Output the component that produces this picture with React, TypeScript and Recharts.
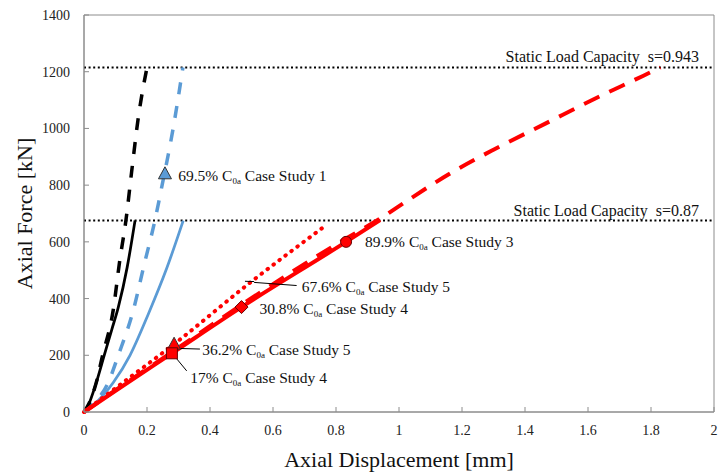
import { ComposedChart, Line, Scatter, XAxis, YAxis, ReferenceLine, ReferenceDot, ReferenceArea } from 'recharts';

// axial force [kN] vs axial displacement [mm]
const blackSolid = [
  { d: 0, f: 0 }, { d: 0.012, f: 20 }, { d: 0.038, f: 100 }, { d: 0.063, f: 195 },
  { d: 0.088, f: 290 }, { d: 0.109, f: 370 }, { d: 0.137, f: 510 }, { d: 0.162, f: 675 },
];
const blackDashed = [
  { d: 0, f: 0 }, { d: 0.015, f: 28 }, { d: 0.038, f: 100 }, { d: 0.059, f: 200 },
  { d: 0.093, f: 361 }, { d: 0.113, f: 530 }, { d: 0.133, f: 675 }, { d: 0.151, f: 845 },
  { d: 0.172, f: 1035 }, { d: 0.2, f: 1215 },
];
const blueSolid = [
  { d: 0, f: 0 }, { d: 0.03, f: 25 }, { d: 0.093, f: 104 }, { d: 0.146, f: 200 },
  { d: 0.204, f: 345 }, { d: 0.262, f: 505 }, { d: 0.315, f: 675 },
];
const blueDashed = [
  { d: 0, f: 0 }, { d: 0.02, f: 20 }, { d: 0.077, f: 104 }, { d: 0.109, f: 200 },
  { d: 0.157, f: 361 }, { d: 0.19, f: 515 }, { d: 0.225, f: 675 }, { d: 0.248, f: 800 },
  { d: 0.283, f: 1000 }, { d: 0.314, f: 1215 },
];
const redSolid = [
  { d: 0, f: 0 }, { d: 0.1, f: 75 }, { d: 0.279, f: 207 }, { d: 0.5, f: 370 },
  { d: 0.832, f: 600 }, { d: 0.94, f: 677 },
];
const redDashed = [
  { d: 0, f: 0 }, { d: 0.1, f: 77 }, { d: 0.279, f: 211 }, { d: 0.5, f: 378 },
  { d: 0.832, f: 612 }, { d: 0.94, f: 682 }, { d: 1.03, f: 748 }, { d: 1.162, f: 841 },
  { d: 1.3, f: 925 }, { d: 1.463, f: 1016 }, { d: 1.62, f: 1104 }, { d: 1.776, f: 1186 },
  { d: 1.83, f: 1215 },
];
const redDotted = [
  { d: 0, f: 0 }, { d: 0.1, f: 84 }, { d: 0.289, f: 242 }, { d: 0.527, f: 456 }, { d: 0.77, f: 660 },
];

// marked operating points
const studyOnePoint = [{ d: 0.257, f: 840 }];
const studyFiveLow = [{ d: 0.286, f: 239 }];
const studyFourLow = [{ d: 0.279, f: 207 }];
const studyFourHigh = [{ d: 0.5, f: 370 }];
const studyThreePoint = [{ d: 0.832, f: 600 }];

// annotation text anchors (data units) and wording
const notes = [
  { d: 0.299, f: 835, pct: '69.5%', study: 'Case Study 1' },
  { d: 0.375, f: 221, pct: '36.2%', study: 'Case Study 5' },
  { d: 0.337, f: 122, pct: '17%', study: 'Case Study 4' },
  { d: 0.557, f: 364, pct: '30.8%', study: 'Case Study 4' },
  { d: 0.691, f: 441, pct: '67.6%', study: 'Case Study 5' },
  { d: 0.892, f: 601, pct: '89.9%', study: 'Case Study 3' },
];
const leaders = [
  [{ x: 0.305, y: 224 }, { x: 0.368, y: 222 }],
  [{ x: 0.294, y: 188 }, { x: 0.326, y: 145 }],
  [{ x: 0.511, y: 461 }, { x: 0.54, y: 460 }],
  [{ x: 0.54, y: 457 }, { x: 0.675, y: 446 }],
];

const capacityLevels = [1215, 675];
const capacityLabels = ['Static Load Capacity  s=0.943', 'Static Load Capacity  s=0.87'];

const xTicks = [0, 0.2, 0.4, 0.6, 0.8, 1, 1.2, 1.4, 1.6, 1.8, 2];
const yTicks = [0, 200, 400, 600, 800, 1000, 1200, 1400];

const FONT = '"Liberation Serif", "Times New Roman", serif';
const RED = '#ff0000';
const BLUE = '#5b9bd5';
const AXIS = '#8c8c8c';

function XTick({ x, y, payload }: any) {
  return (
    <g>
      <line x1={x} y1={y - 13} x2={x} y2={y - 18} stroke={AXIS} />
      <text x={x} y={y} dy="0.71em" textAnchor="middle" fontFamily={FONT} fontSize={14} fill="#222">
        {payload.value}
      </text>
    </g>
  );
}

function YTick({ x, y, payload }: any) {
  return (
    <g>
      <line x1={x + 14} y1={y} x2={x + 19} y2={y} stroke={AXIS} />
      <text x={x} y={y} dy="0.355em" textAnchor="end" fontFamily={FONT} fontSize={14} fill="#222">
        {payload.value}
      </text>
    </g>
  );
}

function noteLabel(pct: string, study: string) {
  return (props: any) => {
    const { x, y } = props.viewBox;
    return (
      <text x={x} y={y} dy="0.35em" fontFamily={FONT} fontSize={15.5} fill="#111">
        <tspan>{pct + ' C'}</tspan>
        <tspan fontSize={9} dy={3}>0a</tspan>
        <tspan dy={-3}>{' ' + study}</tspan>
      </text>
    );
  };
}

function capacityLabel(text: string) {
  return (props: any) => {
    const { x, y, width } = props.viewBox;
    return (
      <text x={x + width - 15} y={y - 5} textAnchor="end" fontFamily={FONT} fontSize={16} fill="#111" style={{ whiteSpace: 'pre' }}>
        {text}
      </text>
    );
  };
}

const triangle = (fill: string) => (p: any) => (
  <path d={`M${p.cx},${p.cy - 7} L${p.cx + 6.5},${p.cy + 5} L${p.cx - 6.5},${p.cy + 5} Z`} fill={fill} stroke="#333" strokeWidth={1} />
);
const square = (p: any) => <rect x={p.cx - 5.5} y={p.cy - 5.5} width={11} height={11} fill={RED} stroke="#600" strokeWidth={1} />;
const diamond = (p: any) => (
  <path d={`M${p.cx},${p.cy - 6.5} L${p.cx + 6.5},${p.cy} L${p.cx},${p.cy + 6.5} L${p.cx - 6.5},${p.cy} Z`} fill={RED} stroke="#600" strokeWidth={1} />
);
const circle = (p: any) => <circle cx={p.cx} cy={p.cy} r={5.5} fill={RED} stroke="#600" strokeWidth={1} />;

export default function App() {
  return (
    <div style={{ position: 'absolute', left: 0, top: 0, background: '#fff' }}>
      <ComposedChart width={720} height={475} margin={{ top: 15, right: 6, bottom: 0, left: 0 }}>
        <XAxis
          type="number"
          dataKey="d"
          domain={[0, 2]}
          ticks={xTicks}
          height={63}
          tickSize={0}
          tickMargin={13}
          stroke={AXIS}
          tick={<XTick />}
          label={{ value: 'Axial Displacement [mm]', position: 'insideBottom', offset: 8, fontSize: 22, fontFamily: FONT, fill: '#111' }}
        />
        <YAxis
          type="number"
          dataKey="f"
          domain={[0, 1400]}
          ticks={yTicks}
          width={84}
          tickSize={0}
          tickMargin={14}
          stroke={AXIS}
          tick={<YTick />}
          label={{
            content: (p: any) => {
              const cx = p.viewBox.x + 24;
              const cy = p.viewBox.y + p.viewBox.height / 2;
              return (
                <text x={cx} y={cy} dy="0.35em" transform={`rotate(-90 ${cx} ${cy})`} textAnchor="middle" fontFamily={FONT} fontSize={22} fill="#111">
                  Axial Force [kN]
                </text>
              );
            },
          }}
        />
        <ReferenceArea x1={0} x2={2} y1={0} y2={1400} fill="none" stroke={AXIS} strokeWidth={1} />

        {capacityLevels.map((lvl, i) => (
          <ReferenceLine key={lvl} y={lvl} stroke="#000" strokeWidth={2} strokeDasharray="2 2.6" label={capacityLabel(capacityLabels[i])} />
        ))}

        <Line data={blueSolid} dataKey="f" type="monotone" stroke={BLUE} strokeWidth={2.75} dot={false} isAnimationActive={false} />
        <Line data={blueDashed} dataKey="f" type="monotone" stroke={BLUE} strokeWidth={3.5} strokeDasharray="12 12" dot={false} isAnimationActive={false} />
        <Line data={blackSolid} dataKey="f" type="monotone" stroke="#000" strokeWidth={2.75} dot={false} isAnimationActive={false} />
        <Line data={blackDashed} dataKey="f" type="monotone" stroke="#000" strokeWidth={3.5} strokeDasharray="12 12" dot={false} isAnimationActive={false} />
        <Line data={redDotted} dataKey="f" type="monotone" stroke={RED} strokeWidth={4} strokeDasharray="0.5 7" strokeLinecap="round" dot={false} isAnimationActive={false} />
        <Line data={redDashed} dataKey="f" type="monotone" stroke={RED} strokeWidth={4} strokeDasharray="17 11" dot={false} isAnimationActive={false} />
        <Line data={redSolid} dataKey="f" type="monotone" stroke={RED} strokeWidth={4} dot={false} isAnimationActive={false} />

        {leaders.map((seg, i) => (
          <ReferenceLine key={i} segment={seg} stroke="#000" strokeWidth={1} />
        ))}

        <Scatter data={studyOnePoint} dataKey="f" shape={triangle(BLUE)} isAnimationActive={false} />
        <Scatter data={studyFiveLow} dataKey="f" shape={triangle(RED)} isAnimationActive={false} />
        <Scatter data={studyFourLow} dataKey="f" shape={square} isAnimationActive={false} />
        <Scatter data={studyFourHigh} dataKey="f" shape={diamond} isAnimationActive={false} />
        <Scatter data={studyThreePoint} dataKey="f" shape={circle} isAnimationActive={false} />

        {notes.map((n) => (
          <ReferenceDot key={n.pct + n.study} x={n.d} y={n.f} r={0} stroke="none" fill="none" label={noteLabel(n.pct, n.study)} />
        ))}
      </ComposedChart>
    </div>
  );
}
